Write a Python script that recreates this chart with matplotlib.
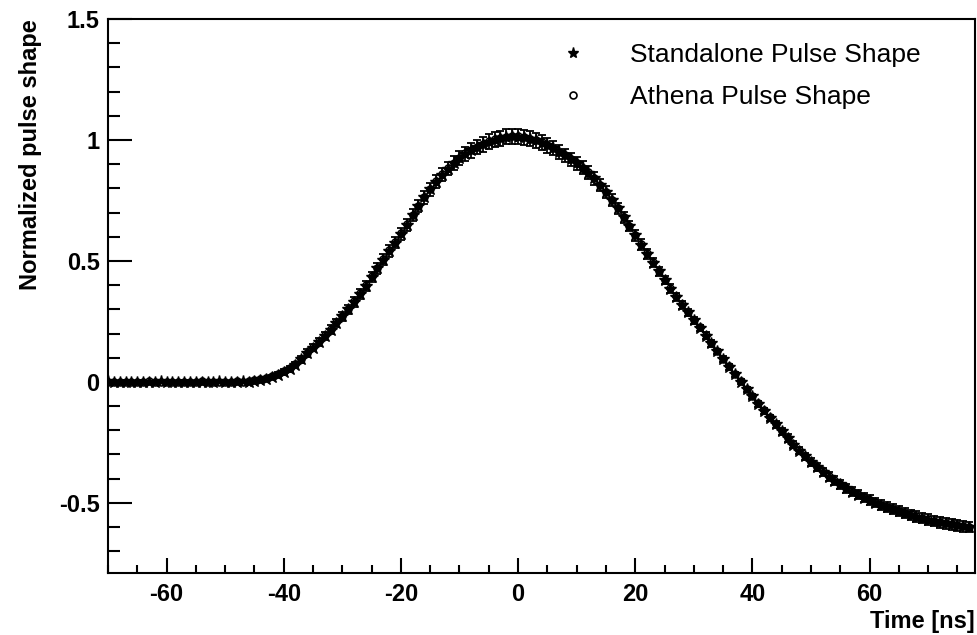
import numpy as np
import matplotlib
matplotlib.use('Agg')
import matplotlib.pyplot as plt
from matplotlib.lines import Line2D
from matplotlib.ticker import MultipleLocator, FuncFormatter

plt.rcParams['font.family'] = ['Liberation Sans', 'DejaVu Sans']
plt.rcParams['axes.unicode_minus'] = False

# time in ns, one point per ns
time = np.arange(-70, 78)

standalone = [
    0.002, -0.001, 0.000, 0.001, -0.002, 0.000, 0.001, -0.001, 0.000, 0.002,
    -0.001, 0.000, -0.002, 0.001, 0.000, -0.001, 0.001, 0.000, -0.001, 0.002,
    0.000, -0.001, 0.001, 0.002, 0.001,
    0.004, 0.008, 0.014, 0.021, 0.030, 0.041, 0.054, 0.069, 0.094,
    0.119, 0.142, 0.166, 0.191, 0.216, 0.243, 0.271, 0.300, 0.330, 0.362,
    0.397, 0.433, 0.469, 0.505, 0.541, 0.576, 0.611, 0.650, 0.689, 0.727,
    0.763, 0.797, 0.828, 0.857, 0.882, 0.905, 0.925, 0.942, 0.957, 0.971,
    0.983, 0.993, 1.001, 1.008, 1.013, 1.015, 1.014, 1.011, 1.006, 0.998,
    0.989, 0.978, 0.965, 0.951, 0.936, 0.920, 0.903, 0.885, 0.865, 0.842,
    0.815, 0.785, 0.752, 0.717, 0.681, 0.644, 0.606, 0.568, 0.530, 0.493,
    0.457, 0.421, 0.386, 0.352, 0.319, 0.287, 0.255, 0.223, 0.191, 0.159,
    0.126, 0.094, 0.062, 0.031, 0.000, -0.030, -0.060, -0.090, -0.119, -0.148,
    -0.176,
    -0.204, -0.232, -0.259, -0.284, -0.308, -0.331, -0.352, -0.372, -0.391, -0.408,
    -0.424, -0.439, -0.453, -0.466, -0.478, -0.489, -0.499, -0.509, -0.518, -0.527,
    -0.535, -0.543, -0.550, -0.557, -0.563, -0.569, -0.575, -0.580, -0.585, -0.589,
    -0.593, -0.597, -0.600,
]

standalone_err = [
    0.005, 0.005, 0.005, 0.005, 0.005, 0.005, 0.005, 0.005, 0.005, 0.005,
    0.005, 0.005, 0.005, 0.005, 0.005, 0.005, 0.005, 0.005, 0.005, 0.005,
    0.005, 0.005, 0.005, 0.005, 0.005,
    0.006, 0.007, 0.008, 0.009, 0.010, 0.011, 0.012, 0.013, 0.014,
    0.015, 0.016, 0.016, 0.017, 0.018, 0.018, 0.019, 0.020, 0.020, 0.021,
    0.021, 0.022, 0.022, 0.023, 0.023, 0.024, 0.024, 0.025, 0.025, 0.026,
    0.026, 0.027, 0.027, 0.028, 0.028, 0.029, 0.029, 0.030, 0.030, 0.030,
    0.031, 0.031, 0.031, 0.031, 0.031, 0.031, 0.031, 0.031, 0.031, 0.030,
    0.030, 0.030, 0.029, 0.029, 0.028, 0.028, 0.027, 0.027, 0.026, 0.026,
    0.025, 0.025, 0.024, 0.023, 0.023, 0.022, 0.022, 0.021, 0.020, 0.020,
    0.019, 0.018, 0.018, 0.017, 0.016, 0.016, 0.015, 0.014, 0.014, 0.013,
    0.012, 0.012, 0.011, 0.011, 0.010, 0.011, 0.011, 0.012, 0.012, 0.013,
    0.014,
    0.014, 0.015, 0.015, 0.016, 0.016, 0.017, 0.017, 0.018, 0.018, 0.018,
    0.019, 0.019, 0.019, 0.020, 0.020, 0.020, 0.020, 0.021, 0.021, 0.021,
    0.021, 0.021, 0.021, 0.022, 0.022, 0.022, 0.022, 0.022, 0.022, 0.022,
    0.022, 0.022, 0.022,
]

athena = [
    0.000, 0.001, -0.002, 0.000, 0.001, -0.001, 0.000, 0.002, -0.001, 0.000,
    0.001, -0.002, 0.000, 0.001, -0.001, 0.000, 0.002, -0.001, 0.000, 0.001,
    -0.001, 0.000, 0.002, 0.001, 0.003,
    0.006, 0.010, 0.016, 0.024, 0.032, 0.044, 0.057, 0.073, 0.096,
    0.121, 0.145, 0.168, 0.194, 0.219, 0.246, 0.274, 0.303, 0.334, 0.366,
    0.400, 0.436, 0.472, 0.508, 0.544, 0.579, 0.615, 0.653, 0.691, 0.729,
    0.766, 0.799, 0.830, 0.859, 0.885, 0.907, 0.927, 0.945, 0.960, 0.973,
    0.985, 0.995, 1.003, 1.009, 1.014, 1.016, 1.015, 1.012, 1.006, 0.999,
    0.990, 0.979, 0.966, 0.952, 0.937, 0.921, 0.904, 0.886, 0.866, 0.843,
    0.816, 0.786, 0.753, 0.719, 0.683, 0.646, 0.608, 0.570, 0.532, 0.495,
    0.459, 0.423, 0.388, 0.354, 0.321, 0.289, 0.257, 0.225, 0.193, 0.161,
    0.128, 0.096, 0.064, 0.033, 0.002, -0.028, -0.058, -0.088, -0.117, -0.146,
    -0.174,
    -0.202, -0.230, -0.257, -0.282, -0.306, -0.329, -0.350, -0.370, -0.389, -0.406,
    -0.422, -0.437, -0.451, -0.464, -0.476, -0.487, -0.497, -0.507, -0.516, -0.525,
    -0.533, -0.541, -0.548, -0.555, -0.561, -0.567, -0.573, -0.578, -0.583, -0.587,
    -0.591, -0.595, -0.598,
]

fig = plt.figure(figsize=(9.77, 6.35), dpi=100)
ax = fig.add_axes([0.1105, 0.0976, 0.8875, 0.8724])

ax.errorbar(time, standalone, yerr=standalone_err, fmt='*', color='black',
            ms=9, elinewidth=1.3, capsize=3, capthick=1.3)
ax.plot(time, athena, 'o', mfc='none', mec='black', ms=5, mew=1.2)

ax.set_xlim(-70, 78)
ax.set_ylim(-0.79, 1.5)

ax.xaxis.set_major_locator(MultipleLocator(20))
ax.xaxis.set_minor_locator(MultipleLocator(5))
ax.yaxis.set_major_locator(MultipleLocator(0.5))
ax.yaxis.set_minor_locator(MultipleLocator(0.1))
ax.yaxis.set_major_formatter(FuncFormatter(lambda v, p: '%g' % v))
ax.xaxis.set_major_formatter(FuncFormatter(lambda v, p: '%g' % v))

ax.tick_params(axis='both', which='both', direction='in', width=1.5,
               top=False, right=False, labelsize=17)
ax.tick_params(axis='x', which='major', length=11, pad=7)
ax.tick_params(axis='x', which='minor', length=5.5)
ax.tick_params(axis='y', which='major', length=17, pad=6)
ax.tick_params(axis='y', which='minor', length=8.5)
for lab in ax.get_xticklabels() + ax.get_yticklabels():
    lab.set_fontweight('bold')
for sp in ax.spines.values():
    sp.set_linewidth(1.5)

ax.set_xlabel('Time [ns]', fontsize=17, fontweight='bold', loc='right', labelpad=3)
ax.set_ylabel('Normalized pulse shape', fontsize=17, fontweight='bold', loc='top', labelpad=12)

handles = [Line2D([], [], ls='none', marker='*', color='black', ms=8),
           Line2D([], [], ls='none', marker='o', mfc='none', mec='black', ms=5, mew=1.2)]
ax.legend(handles, ['Standalone Pulse Shape', 'Athena Pulse Shape'],
          loc='upper left', bbox_to_anchor=(0.549, 0.969), bbox_transform=fig.transFigure,
          frameon=False, fontsize=19, handlelength=1.0, handletextpad=1.65,
          labelspacing=0.68)

fig.savefig('out.png', dpi=100)
